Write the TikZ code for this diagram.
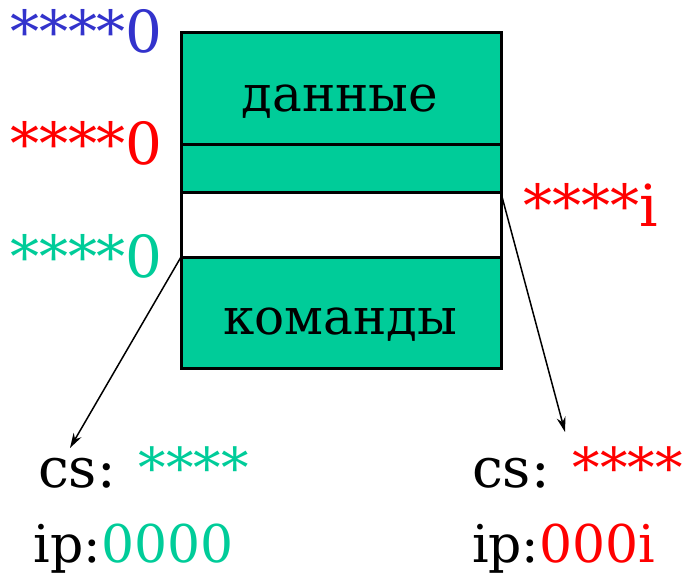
\documentclass[tikz,border=0pt]{standalone}
\usepackage{fontspec}
\setmainfont{DejaVu Serif}
\usetikzlibrary{arrows.meta}
\definecolor{segGreen}{HTML}{00CC99}
\definecolor{segBlue}{HTML}{3333CC}
\definecolor{segRed}{HTML}{FF0000}
\tikzset{
  seg/.style={draw=black, line width=3pt, inner sep=0pt, outer sep=0pt, minimum width=320pt},
  txt/.style={inner sep=0pt, outer sep=0pt},
  addr/.style={txt, font=\fontsize{58}{70}\selectfont},
  word/.style={txt, font=\fontsize{50}{60}\selectfont},
  csreg/.style={txt, font=\fontsize{55}{66}\selectfont},
  ipreg/.style={txt, font=\fontsize{52}{62}\selectfont},
  ptr/.style={draw=black, line width=1.5pt, -{Stealth[length=15pt,width=9pt]}}
}
\begin{document}
\begin{tikzpicture}[x=1pt,y=-1pt]
\useasboundingbox (0,0) rectangle (686,575);
% memory segments
\node[seg, fill=segGreen, minimum height=112pt, anchor=north west] (data) at (181,33) {};
\node[seg, fill=segGreen, minimum height=48pt, anchor=north west] (gap) at (181,145) {};
\node[seg, fill=white, minimum height=64pt, anchor=north west] (ipseg) at (181,193) {};
\node[seg, fill=segGreen, minimum height=111pt, anchor=north west] (code) at (181,257) {};
\node[word, anchor=base] (tdata) at (340,112) {данные};
\node[word, anchor=base] (tcode) at (340,334) {команды};
% addresses
\node[addr, anchor=base west, text=segBlue] (a1) at (10,53) {****0};
\node[addr, anchor=base west, text=segRed] (a2) at (10,165) {****0};
\node[addr, anchor=base west, text=segGreen] (a3) at (10,277) {****0};
\node[addr, anchor=base west, text=segRed] (a4) at (523,226) {****i};
% registers
\node[csreg, anchor=base west] (cs1) at (38,487) {cs: \textcolor{segGreen}{****}};
\node[ipreg, anchor=base west] (ip1) at (34,562) {ip:\textcolor{segGreen}{0000}};
\node[csreg, anchor=base west] (cs2) at (472,487) {cs: \textcolor{segRed}{****}};
\node[ipreg, anchor=base west] (ip2) at (472,562) {ip:\textcolor{segRed}{000i}};
% pointers
\coordinate (e1) at (70,448);
\coordinate (e2) at (565,432);
\draw[ptr] (code.north west) -- (e1);
\draw[ptr] (ipseg.north east) -- (e2);
\end{tikzpicture}
\end{document}
